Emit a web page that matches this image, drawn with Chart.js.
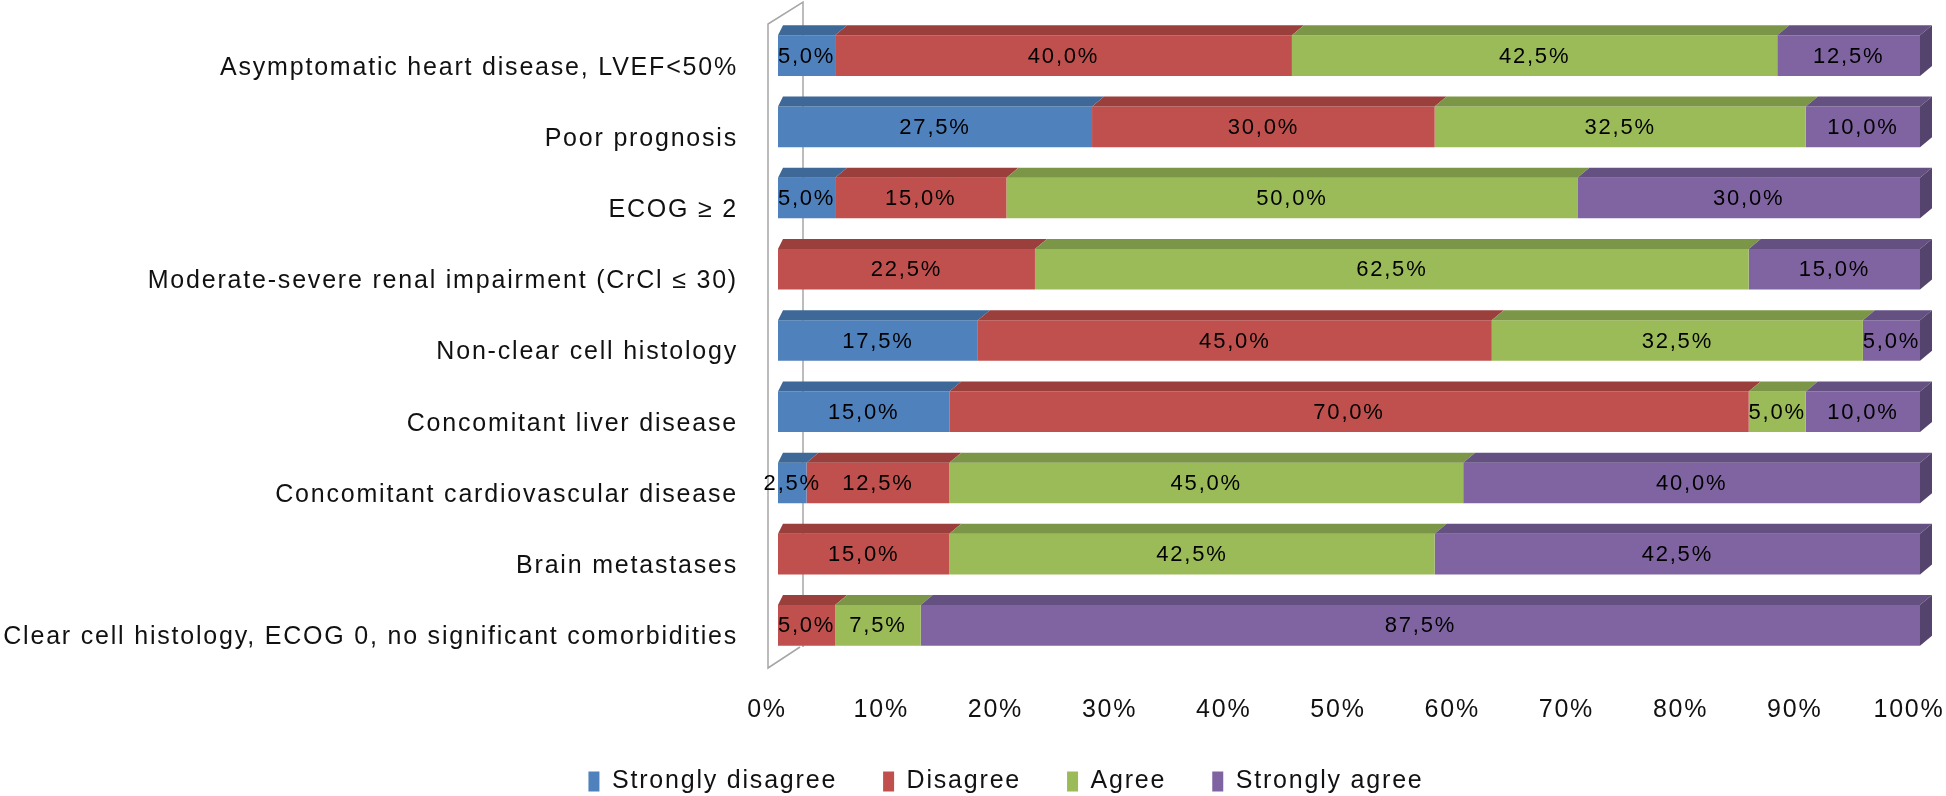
<!DOCTYPE html>
<html>
<head>
<meta charset="utf-8">
<script src="https://cdn.jsdelivr.net/npm/chart.js@4/dist/chart.umd.min.js"></script>
<style>
  html, body { margin: 0; padding: 0; background: #fff; }
</style>
</head>
<body>
<canvas id="myChart" width="1946" height="796"></canvas>
<script>
const categories = [
  'Asymptomatic heart disease, LVEF<50%',
  'Poor prognosis',
  'ECOG \u2265 2',
  'Moderate-severe renal impairment (CrCl \u2264 30)',
  'Non-clear cell histology',
  'Concomitant liver disease',
  'Concomitant cardiovascular disease',
  'Brain metastases',
  'Clear cell histology, ECOG 0, no significant comorbidities'
];
const seriesNames = ['Strongly disagree', 'Disagree', 'Agree', 'Strongly agree'];
const stronglyDisagree = [5, 27.5, 5, 0, 17.5, 15, 2.5, 0, 0];
const disagree = [40, 30, 15, 22.5, 45, 70, 12.5, 15, 5];
const agree = [42.5, 32.5, 50, 62.5, 32.5, 5, 45, 42.5, 7.5];
const stronglyAgree = [12.5, 10, 30, 15, 5, 10, 40, 42.5, 87.5];
const xTicks = [0, 10, 20, 30, 40, 50, 60, 70, 80, 90, 100];

const fronts = ['#4F81BD', '#C0504D', '#9BBB59', '#8064A2'];
const tops = ['#3E6897', '#9A3F3C', '#7C9647', '#655082'];
const sides = ['#34577f', '#823532', '#687e3b', '#54436d'];

Chart.defaults.font.family = "'Liberation Sans', Arial, sans-serif";
Chart.defaults.color = '#111';

const spacing = {
  id: 'spacing',
  beforeUpdate(chart) { chart.ctx.letterSpacing = '1.8px'; },
  beforeDraw(chart) { chart.ctx.letterSpacing = '1.8px'; }
};

// wall outline on the left, like the excel 3d chart
const wall = {
  id: 'wall',
  beforeDatasetsDraw(chart) {
    const { ctx, chartArea: a } = chart;
    ctx.save();
    ctx.strokeStyle = '#a6a6a6';
    ctx.lineWidth = 1.5;
    ctx.beginPath();
    ctx.moveTo(a.left + 25, a.bottom - 14);
    ctx.lineTo(a.left + 25, a.top - 18);
    ctx.lineTo(a.left - 10, a.top + 4);
    ctx.lineTo(a.left - 10, a.bottom + 7);
    ctx.lineTo(a.left + 22, a.bottom - 14);
    ctx.stroke();
    ctx.restore();
  }
};

const bars3d = {
  id: 'bars3d',
  afterDatasetsDraw(chart) {
    const { ctx, chartArea } = chart;
    const dx = 12, dy = 10;
    ctx.save();
    chart.data.datasets.forEach((ds, i) => {
      const meta = chart.getDatasetMeta(i);
      meta.data.forEach((bar, j) => {
        if (!ds.data[j]) return;
        const x0 = Math.min(bar.x, bar.base), x1 = Math.max(bar.x, bar.base);
        const top = bar.y - bar.height / 2, bottom = bar.y + bar.height / 2;
        const lx = x0 <= chartArea.left + 1 ? 5 : dx;
        ctx.fillStyle = tops[i];
        ctx.beginPath();
        ctx.moveTo(x0, top);
        ctx.lineTo(x0 + lx, top - dy);
        ctx.lineTo(x1 + dx, top - dy);
        ctx.lineTo(x1, top);
        ctx.closePath();
        ctx.fill();
        if (x1 >= chartArea.right - 1) {
          ctx.fillStyle = sides[i];
          ctx.beginPath();
          ctx.moveTo(x1, top);
          ctx.lineTo(x1 + dx, top - dy);
          ctx.lineTo(x1 + dx, bottom - dy);
          ctx.lineTo(x1, bottom);
          ctx.closePath();
          ctx.fill();
        }
      });
    });
    ctx.restore();
  }
};

const valueLabels = {
  id: 'valueLabels',
  afterDatasetsDraw(chart) {
    const { ctx } = chart;
    ctx.save();
    ctx.font = "22px 'Liberation Sans', Arial, sans-serif";
    ctx.fillStyle = '#000';
    ctx.textAlign = 'center';
    ctx.textBaseline = 'middle';
    chart.data.datasets.forEach((ds, i) => {
      chart.getDatasetMeta(i).data.forEach((bar, j) => {
        const v = ds.data[j];
        if (!v) return;
        ctx.fillText(v.toFixed(1).replace('.', ',') + '%', (bar.x + bar.base) / 2, bar.y + 1);
      });
    });
    ctx.restore();
  }
};

const legendShift = {
  id: 'legendShift',
  afterLayout(chart) {
    chart.legend.left += 46;
    chart.legend.right += 46;
    chart.legend.top -= 4;
    chart.legend.bottom -= 4;
  }
};

const data = {
  labels: categories,
  datasets: [stronglyDisagree, disagree, agree, stronglyAgree].map((vals, i) => ({
    label: seriesNames[i],
    data: vals,
    backgroundColor: fronts[i],
    borderWidth: 0,
    categoryPercentage: 1,
    barPercentage: 0.57
  }))
};

const config = {
  type: 'bar',
  data: data,
  options: {
    indexAxis: 'y',
    responsive: false,
    animation: false,
    devicePixelRatio: 1,
    layout: { padding: { left: 0, right: 26, top: 20, bottom: -12 } },
    scales: {
      x: {
        stacked: true,
        min: 0,
        max: 100,
        afterBuildTicks(scale) { scale.ticks = xTicks.map(v => ({ value: v })); },
        afterFit(scale) {
          scale.height = 66;
          scale.paddingLeft = 0;
          scale.paddingRight = 0;
        },
        grid: { display: false, drawTicks: false },
        border: { display: false },
        ticks: {
          padding: 34,
          labelOffset: -11,
          font: { size: 25 },
          callback: v => v + '%'
        }
      },
      y: {
        stacked: true,
        afterFit(scale) {
          scale.width = 778;
          scale.paddingTop = 0;
          scale.paddingBottom = 0;
        },
        grid: { display: false, drawTicks: false },
        border: { display: false },
        ticks: {
          padding: 40,
          labelOffset: 12,
          font: { size: 25 }
        }
      }
    },
    plugins: {
      legend: {
        position: 'bottom',
        labels: {
          boxWidth: 11,
          boxHeight: 20,
          padding: 46,
          font: { size: 25 },
          color: '#111'
        }
      },
      tooltip: { enabled: false }
    }
  },
  plugins: [spacing, wall, bars3d, valueLabels, legendShift]
};

const myChart = new Chart(document.getElementById('myChart'), config);
</script>
</body>
</html>
